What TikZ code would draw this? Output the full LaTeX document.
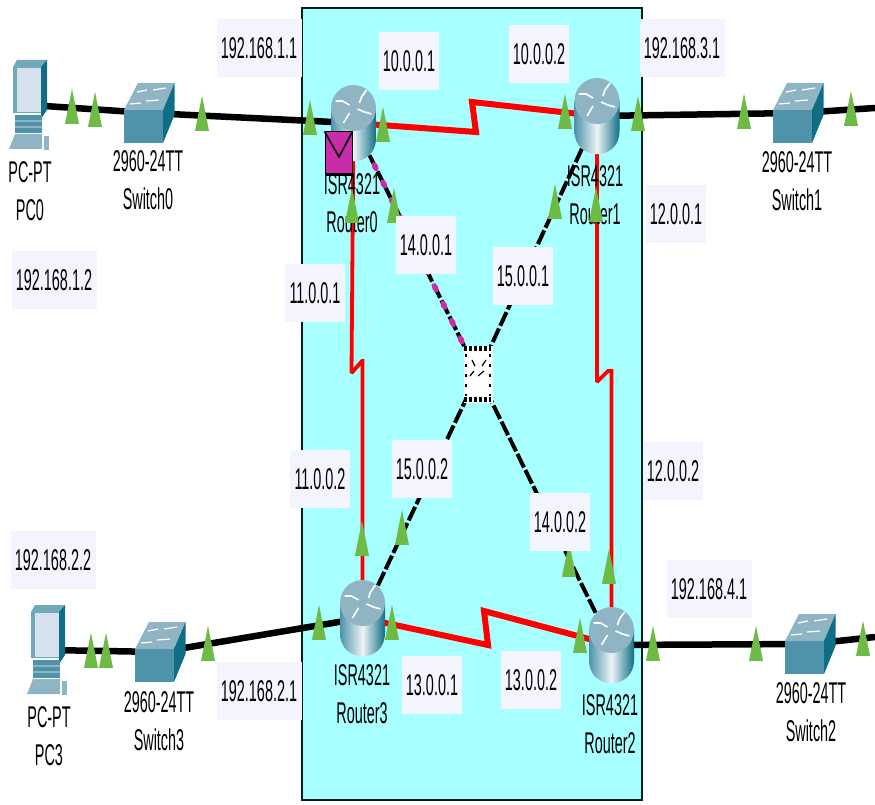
\documentclass[tikz,border=0pt]{standalone}
\usepackage{fontspec}
\setmainfont[FakeStretch=0.48]{Liberation Sans}
\usetikzlibrary{shapes.geometric}
\definecolor{netarea}{HTML}{A8FFFF}
\definecolor{ipfill}{HTML}{F4F4FF}
\definecolor{lightgreen}{HTML}{6DBB45}
\definecolor{pduviolet}{HTML}{C92CA8}
\definecolor{icontop}{HTML}{8FB5C5}
\definecolor{iconfront}{HTML}{4E93A9}
\definecolor{iconside}{HTML}{0F6E85}
\begin{document}
\begin{tikzpicture}[
        x=1pt, y=-1pt,
        devspot/.style={inner sep=0pt, minimum size=1pt},
        ethernet/.style={draw=black, line width=6.5pt},
        serial/.style={draw=red, line width=6pt, line join=miter, miter limit=2},
        copper/.style={draw=red, line width=3.8pt, miter limit=2},
        crossover/.style={draw=black, line width=4pt, dash pattern=on 15pt off 3pt},
        pktdot/.style={ellipse, fill=pduviolet, inner sep=0pt, minimum width=6pt, minimum height=10pt},
        linktri/.style={isosceles triangle, isosceles triangle stretches, shape border rotate=90,
            fill=lightgreen, inner sep=0pt, minimum width=14pt, minimum height=35pt, anchor=lower side},
        iplabel/.style={fill=ipfill, inner sep=0pt, minimum width=60pt, minimum height=58pt,
            font=\fontsize{30}{38}\selectfont},
        widelabel/.style={iplabel, minimum width=85pt},
        devname/.style={align=center, inner sep=0pt, font=\fontsize{30}{38}\selectfont},
        routericon/.pic={
            \shade[left color=iconfront, right color=iconside, middle color=white!90!iconfront]
                (-22.5,-15) -- (22.5,-15) -- (22.5,15) .. controls (22.5,46) and (-22.5,46) .. (-22.5,15) -- cycle;
            \fill[icontop] (0,-15) ellipse[x radius=22.5, y radius=23];
            \draw[white, line width=1.6pt] (-18,-22) -- (-11,-22) -- (-4,-18);
            \draw[white, line width=1.6pt] (13,-33) -- (8,-26) -- (6,-20);
            \draw[white, line width=1.6pt] (18,-9) -- (11,-11) -- (4,-14);
            \draw[white, line width=1.6pt] (-10,0) -- (-7,-5) -- (-4,-10);
        },
        switchicon/.pic={
            \fill[iconfront] (-25,-3) rectangle (14,30);
            \fill[icontop] (-25,-3) -- (14,-3) -- (25.5,-30) -- (-11,-30) -- cycle;
            \fill[iconside] (14,-3) -- (25.5,-30) -- (25.5,2) -- (14,30) -- cycle;
            \draw[white, line width=1.2pt] (-12,-21) -- (-2,-23) (4,-23) -- (17,-25);
            \draw[white, line width=1.2pt] (-19,-9) -- (-8,-10) (-3,-12) -- (10,-13);
        },
        pcicon/.pic={
            \fill[iconfront!80!white] (-17,-38) -- (-13,-45) -- (17,-45) -- (11,-38) -- (11,8) -- (-17,8) -- cycle;
            \fill[iconside] (11,-38) -- (17,-45) -- (17,5) -- (11,14) -- cycle;
            \fill[ipfill!70!icontop] (-13,-37) rectangle (11,7);
            \fill[iconfront] (-15,10) rectangle (12,28);
            \draw[icontop, line width=1.5pt] (-15,16) -- (12,16) (-15,22) -- (12,22);
            \fill[icontop] (-21,44) -- (-15,29) -- (12,29) -- (12,44) -- cycle;
            \fill[icontop] (14,31) rectangle (19,45);
            \draw[white!85!icontop, line width=1pt] (12,24) to[bend left=50] (19,31);
        },
    ]
    \useasboundingbox (0,0) rectangle (875,805);
    \draw[fill=netarea, draw=black!75!teal, line width=1.5pt] (302,8) rectangle (642,800);

    \node[devspot] (pc0) at (30,105) {};
    \node[devspot] (pc3) at (48,650) {};
    \node[devspot] (switch0) at (149,113) {};
    \node[devspot] (switch1) at (798,113) {};
    \node[devspot] (switch2) at (810,644) {};
    \node[devspot] (switch3) at (160,652) {};
    \node[devspot] (router0) at (353.5,123) {};
    \node[devspot] (router1) at (597,116) {};
    \node[devspot] (router2) at (611.5,645) {};
    \node[devspot] (router3) at (362.5,618) {};
    \node[fill=white, minimum width=29pt, minimum height=57pt, inner sep=0pt] (hub) at (478,374) {};
    \coordinate (east1) at (875,108);
    \coordinate (east2) at (875,637);
    \coordinate (kink0a) at (476,132);
    \coordinate (kink0b) at (472,102);
    \coordinate (kink1a) at (351.5,373);
    \coordinate (kink1b) at (362,361);
    \coordinate (kink2a) at (597,382);
    \coordinate (kink2b) at (608,371);
    \coordinate (kink3a) at (488,645);
    \coordinate (kink3b) at (484,611);

    \draw[ethernet] (pc0.center) -- (switch0.center) -- (router0.center);
    \draw[ethernet] (router1.center) -- (switch1.center) -- (east1);
    \draw[ethernet] (pc3.center) -- (switch3.center) -- (router3.center);
    \draw[ethernet] (router2.center) -- (switch2.center) -- (east2);
    \draw[serial] (router0.center) -- (kink0a) -- (kink0b) -- (router1.center);
    \draw[serial] (router3.center) -- (kink3a) -- (kink3b) -- (router2.center);
    \draw[copper] (router0.center) -- (kink1a) -- (kink1b) -- (router3.center |- kink1b) -- (router3.center);
    \draw[copper] (router1.center) -- (kink2a) -- (kink2b) -- (router2.center |- kink2b) -- (router2.center);
    \draw[crossover] (router0.center) -- (hub.center);
    \draw[crossover] (router1.center) -- (hub.center);
    \draw[crossover] (router2.center) -- (hub.center);
    \draw[crossover] (router3.center) -- (hub.center);

    \foreach \k in {0,...,12} {
        \pgfmathsetmacro{\p}{0.036+0.069*\k}
        \path (router0.center) -- (hub.center) node[pktdot, pos=\p, rotate=25] (dot\k) {};
    }

    \node[fill=white, minimum width=29pt, minimum height=57pt, inner sep=0pt] (hubface) at (hub.center) {};
    \draw[line width=5pt, dash pattern=on 2.5pt off 2.5pt] (hubface.north west) ++(1,3) -- ++(27,0);
    \draw[line width=5pt, dash pattern=on 2.5pt off 2.5pt] (hubface.south west) ++(1,-3) -- ++(27,0);
    \draw[line width=1.6pt, dash pattern=on 3pt off 7pt] (466,354) -- (466,396);
    \draw[line width=1.6pt, dash pattern=on 3pt off 7pt] (490,354) -- (490,396);
    \draw[line width=1.2pt] (470,376) -- (474,371) (478,376) -- (484,371) (472,360) -- (475,366) (482,366) -- (486,360);

    \foreach \dev in {router0,router1,router2,router3}
        \pic at (\dev) {routericon};
    \foreach \dev in {switch0,switch1,switch2,switch3}
        \pic at (\dev) {switchicon};
    \foreach \dev in {pc0,pc3}
        \pic at (\dev) {pcicon};

    \node[devname] (namepc0) at (30,191) {PC-PT\\PC0};
    \node[devname] (namepc3) at (49,736) {PC-PT\\PC3};
    \node[devname] (namesw0) at (148,180) {2960-24TT\\Switch0};
    \node[devname] (namesw1) at (797,181) {2960-24TT\\Switch1};
    \node[devname] (namesw2) at (811,712) {2960-24TT\\Switch2};
    \node[devname] (namesw3) at (159,721) {2960-24TT\\Switch3};
    \node[devname] (namer0) at (352,203) {ISR4321\\Router0};
    \node[devname] (namer1) at (595,195) {ISR4321\\Router1};
    \node[devname] (namer2) at (610,724) {ISR4321\\Router2};
    \node[devname] (namer3) at (362,694) {ISR4321\\Router3};

    \foreach \tx/\ty [count=\i] in {72/124,95/127,202/131,310/135,383/142,352/223,394/223,
        565/129,555/219,596/222,638/131,744/129,851/126,
        362/556,402/545,319/640,392/640,580/653,569/577,609/584,
        653/661,756/661,863/656,91/668,106/668,208/661}
        \node[linktri] (tri\i) at (\tx,\ty) {};

    \node[widelabel] (ip11) at (259,48) {192.168.1.1};
    \node[widelabel] (ip12) at (54,280) {192.168.1.2};
    \node[widelabel] (ip21) at (259,691) {192.168.2.1};
    \node[widelabel] (ip22) at (53,560) {192.168.2.2};
    \node[widelabel] (ip31) at (682,48) {192.168.3.1};
    \node[widelabel] (ip41) at (709,589) {192.168.4.1};
    \node[iplabel] (ten1) at (409,61) {10.0.0.1};
    \node[iplabel] (ten2) at (539,54) {10.0.0.2};
    \node[iplabel] (eleven1) at (315,293) {11.0.0.1};
    \node[iplabel] (eleven2) at (320,479) {11.0.0.2};
    \node[iplabel] (twelve1) at (676,214) {12.0.0.1};
    \node[iplabel] (twelve2) at (673,471) {12.0.0.2};
    \node[iplabel] (thirteen1) at (432,685) {13.0.0.1};
    \node[iplabel] (thirteen2) at (531,680) {13.0.0.2};
    \node[iplabel] (fourteen1) at (426,245) {14.0.0.1};
    \node[iplabel] (fourteen2) at (560,522) {14.0.0.2};
    \node[iplabel] (fifteen1) at (523,276) {15.0.0.1};
    \node[iplabel] (fifteen2) at (422,469) {15.0.0.2};

    \node[draw=black, fill=pduviolet, line width=1pt, inner sep=0pt, minimum width=27pt, minimum height=42pt] (pdu) at (338.5,153) {};
    \draw[line width=1.6pt] (pdu.north west) -- (339,157) -- (pdu.north east);
    \draw[line width=3pt] (pdu.south west) -- (pdu.south east);
\end{tikzpicture}
\end{document}
